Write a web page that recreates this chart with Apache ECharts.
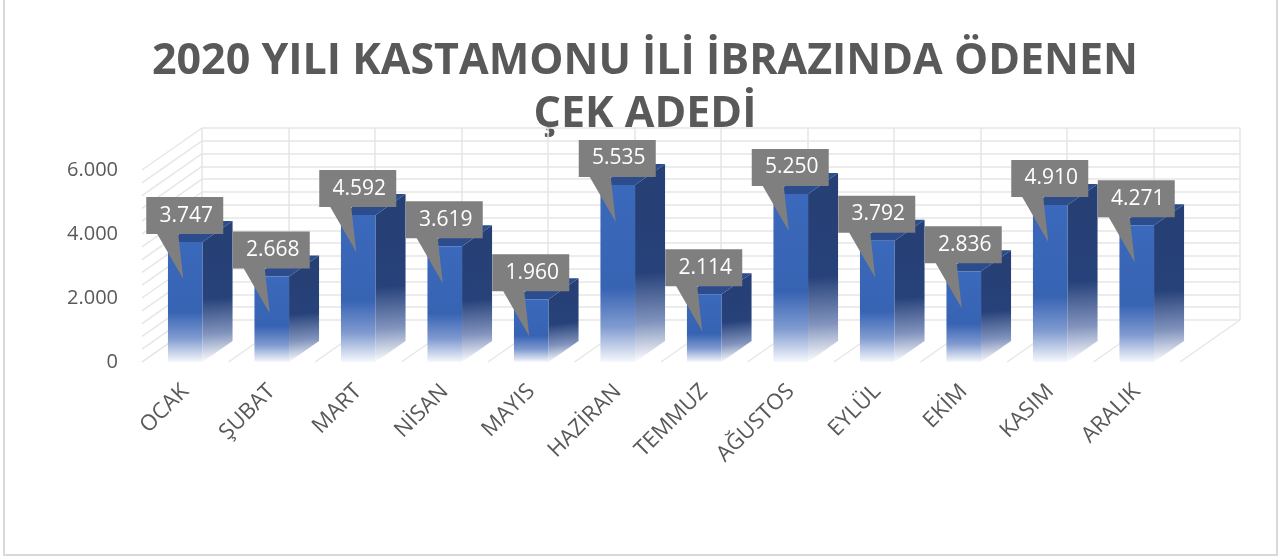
<!DOCTYPE html>
<html>
<head>
<meta charset="UTF-8">
<style>
    html, body { margin: 0; padding: 0; background: #fff; }
    #chart { width: 1281px; height: 557px; }
</style>
</head>
<body>
<div id="chart"></div>
<script src="https://cdn.jsdelivr.net/npm/echarts@6/dist/echarts.min.js"></script>
<script>
var months = ['OCAK', 'ŞUBAT', 'MART', 'NİSAN', 'MAYIS', 'HAZİRAN', 'TEMMUZ', 'AĞUSTOS', 'EYLÜL', 'EKİM', 'KASIM', 'ARALIK'];
var cekAdedi = [3747, 2668, 4592, 3619, 1960, 5535, 2114, 5250, 3792, 2836, 4910, 4271];
var yMax = 6000;
var yStep = 2000;
var minorStep = 400;
var titleLines = ['2020 YILI KASTAMONU İLİ İBRAZINDA ÖDENEN', 'ÇEK ADEDİ'];

// fake 3d depth
var DEPTH_X = 60, DEPTH_Y = -42;
var BAR_DX = 30, BAR_DY = -21;
var textColor = '#595959';
var wallColor = '#e6e6e6';

function fmt(v) {
    return String(v).replace(/\B(?=(\d{3})+(?!\d))/g, '.');
}

var wallValues = [];
for (var v = 0; v <= yMax; v += minorStep) wallValues.push([0, v]);
var floorEdges = [];
for (var i = 0; i <= months.length; i++) floorEdges.push([i, 0]);

var chart = echarts.init(document.getElementById('chart'));

chart.setOption({
    animation: false,
    textStyle: { fontFamily: 'Open Sans' },
    graphic: [
        { type: 'rect', shape: { x: 4, y: -4, width: 1273, height: 559 }, style: { fill: 'none', stroke: '#d9d9d9', lineWidth: 2 }, silent: true },
        { type: 'text', x: 645, y: 62, style: { text: titleLines[0], fill: textColor, font: 'bold 43px "Open Sans"', align: 'center', verticalAlign: 'middle' } },
        { type: 'text', x: 645, y: 115, style: { text: titleLines[1], fill: textColor, font: 'bold 43px "Open Sans"', align: 'center', verticalAlign: 'middle' } }
    ],
    grid: [
        { left: 142, right: 101, top: 170, bottom: 195 },
        { left: 202, right: 41, top: 128, bottom: 237 }
    ],
    xAxis: [
        {
            type: 'category', gridIndex: 0, data: months,
            axisLine: { show: false }, axisTick: { show: false },
            axisLabel: { rotate: 45, fontSize: 22, color: textColor, margin: 26, interval: 0 }
        },
        {
            type: 'category', gridIndex: 1, data: months,
            axisLine: { show: false }, axisTick: { show: false }, axisLabel: { show: false },
            splitLine: { show: true, interval: 0, lineStyle: { color: wallColor, width: 1.5 } }
        }
    ],
    yAxis: [
        {
            type: 'value', gridIndex: 0, min: 0, max: yMax, interval: yStep,
            axisLine: { show: false }, axisTick: { show: false }, splitLine: { show: false },
            axisLabel: { fontSize: 20, color: textColor, margin: 24, formatter: fmt }
        },
        {
            type: 'value', gridIndex: 1, min: 0, max: yMax, interval: minorStep,
            axisLine: { show: false }, axisTick: { show: false }, axisLabel: { show: false },
            splitLine: { show: true, lineStyle: { color: wallColor, width: 1.5 } }
        }
    ],
    series: [
        {
            // left side wall
            type: 'custom', xAxisIndex: 0, yAxisIndex: 0, silent: true, z: 1,
            data: wallValues,
            renderItem: function (params, api) {
                var band = api.size([1, 0])[0];
                var p = api.coord([0, api.value(1)]);
                var x = p[0] - band / 2;
                return {
                    type: 'line',
                    shape: { x1: x, y1: p[1], x2: x + DEPTH_X, y2: p[1] + DEPTH_Y },
                    style: { stroke: wallColor, lineWidth: 1.5 }
                };
            }
        },
        {
            // floor
            type: 'custom', xAxisIndex: 0, yAxisIndex: 0, silent: true, z: 1,
            data: floorEdges,
            renderItem: function (params, api) {
                var band = api.size([1, 0])[0];
                var idx = api.value(0);
                var last = months.length - 1;
                var p = api.coord([Math.min(idx, last), 0]);
                var x = p[0] + (idx > last ? band / 2 : -band / 2);
                return {
                    type: 'line',
                    shape: { x1: x, y1: p[1], x2: x + DEPTH_X, y2: p[1] + DEPTH_Y },
                    style: { stroke: wallColor, lineWidth: 1.5 }
                };
            }
        },
        {
            // bars
            type: 'custom', xAxisIndex: 0, yAxisIndex: 0, z: 3,
            data: cekAdedi.map(function (v, i) { return [i, v]; }),
            renderItem: function (params, api) {
                var band = api.size([1, 0])[0];
                var bw = band * 0.4;
                var top = api.coord([api.value(0), api.value(1)]);
                var base = api.coord([api.value(0), 0]);
                var x0 = top[0] - bw / 2, x1 = top[0] + bw / 2;
                var yt = top[1], yb = base[1];
                return {
                    type: 'group',
                    children: [
                        {
                            type: 'polygon',
                            shape: { points: [[x1, yt], [x1 + BAR_DX, yt + BAR_DY], [x1 + BAR_DX, yb + BAR_DY], [x1, yb]] },
                            style: {
                                fill: new echarts.graphic.LinearGradient(0, 0, 0.3, 1, [
                                    { offset: 0, color: '#263f74' },
                                    { offset: 0.55, color: '#27427a' },
                                    { offset: 0.8, color: '#8193bd' },
                                    { offset: 1, color: '#ffffff' }
                                ])
                            }
                        },
                        {
                            type: 'polygon',
                            shape: { points: [[x0, yt], [x0 + BAR_DX, yt + BAR_DY], [x1 + BAR_DX, yt + BAR_DY], [x1, yt]] },
                            style: { fill: '#2c4c8c' }
                        },
                        {
                            type: 'rect',
                            shape: { x: x0, y: yt, width: bw, height: yb - yt },
                            style: {
                                fill: new echarts.graphic.LinearGradient(0, 0, 0, 1, [
                                    { offset: 0, color: '#3b69bb' },
                                    { offset: 0.58, color: '#3763b3' },
                                    { offset: 0.8, color: '#7f9ad0' },
                                    { offset: 1, color: '#f6f8fc' }
                                ])
                            }
                        }
                    ]
                };
            }
        },
        {
            // value callouts
            type: 'custom', xAxisIndex: 0, yAxisIndex: 0, z: 5,
            data: cekAdedi.map(function (v, i) { return [i, v]; }),
            renderItem: function (params, api) {
                var top = api.coord([api.value(0), api.value(1)]);
                var cx = top[0], yt = top[1];
                var L = cx - 39, R = cx + 38, T = yt - 45, B = yt - 8;
                return {
                    type: 'group',
                    children: [
                        {
                            type: 'polygon',
                            shape: { points: [[L, T], [R, T], [R, B], [cx - 7, B], [cx - 2, yt + 37], [cx - 28, B], [L, B]] },
                            style: { fill: '#7f7f7f' }
                        },
                        {
                            type: 'text',
                            x: cx + 1, y: (T + B) / 2,
                            style: {
                                text: fmt(api.value(1)), fill: '#ffffff',
                                font: '21px "Open Sans"', align: 'center', verticalAlign: 'middle'
                            }
                        }
                    ]
                };
            }
        }
    ]
});
</script>
</body>
</html>
